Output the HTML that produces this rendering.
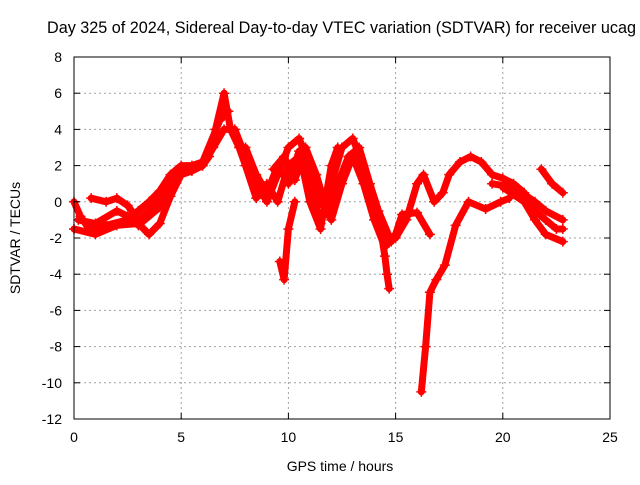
<!DOCTYPE html>
<html><head><meta charset="utf-8"><style>
body{margin:0;background:#fff;overflow:hidden}
svg{font-family:"Liberation Sans",sans-serif}
</style></head><body>
<svg id="chart" width="640" height="480">
<text x="47" y="33" font-size="16.2">Day 325 of 2024, Sidereal Day-to-day VTEC variation (SDTVAR) for receiver ucag</text>
<text x="340" y="471" font-size="14" text-anchor="middle">GPS time / hours</text>
<text x="20" y="238" font-size="14" text-anchor="middle" transform="rotate(-90 20 238)">SDTVAR / TECUs</text>
<g id="grid"></g><g id="marks"></g>
<rect x="74" y="57" width="536" height="362" fill="none" stroke="#000"/>
<g id="ticks"></g>
</svg>
<script>
const xTicks=[0,5,10,15,20,25];
const yTicks=[-12,-10,-8,-6,-4,-2,0,2,4,6,8];
const trackA=[[0,0],[0.3,-0.8],[0.7,-1.5],[1.5,-1.3],[2.5,-1],[3,-0.5],[3.5,0],[4,0.6],[4.5,1.5],[5,2],[5.5,2],[6,2],[6.3,2.5],[6.6,4],[7,6],[7.3,4],[7.7,3],[8,2],[8.5,0.2],[9,1],[9.5,0],[10,2],[10.5,2.5],[11,1],[11.5,-1.2],[12,1],[12.5,3],[13,3.5],[13.5,2],[14,0],[14.5,-2],[15,-2],[15.5,-1],[16,1],[16.3,1.5],[16.8,0],[17.2,0.5],[17.5,1.5],[18,2.2],[18.5,2.5],[19,2.2],[19.5,1.5],[20,1.3],[20.5,1],[21,0.5],[21.5,-0.5],[22,-1],[22.5,-1.5],[22.8,-1.5]];
const trackB=[[0,-1.5],[1,-1.8],[2,-1.3],[3,-1.2],[3.5,-1.8],[4,-1.2],[4.5,0.3],[5,1.5],[5.5,1.7],[6,2],[6.5,3],[7,4],[7.5,4],[8,2.5],[8.5,1],[9,0],[9.5,1.5],[10,3],[10.5,3.5],[11,2],[11.5,0],[12,-1],[12.5,1],[13,2.5],[13.5,1],[14,-1],[14.5,-2.5],[15,-1.8],[15.3,-0.7],[16,-0.6],[16.6,-1.8]];
const trackC=[[0.8,0.2],[1.5,0],[2,0.2],[2.5,-0.2],[3,-1],[3.5,-0.5],[4,0.3],[4.5,1.2],[5,1.8],[6,2.2],[6.8,4.5],[7.2,5]];
const trackD=[[16.2,-10.5],[16.4,-8],[16.6,-5],[16.9,-4.3],[17.3,-3.5],[17.8,-1.3],[18.4,0],[19.2,-0.4],[19.9,0],[20.3,0.2]];
const trackE=[[21.8,1.8],[22.3,1],[22.8,0.5]];
const trackF=[[19.5,1],[20.5,0.8],[21.5,0],[22,-0.5],[22.8,-1]];
const trackG=[[20,0.8],[21,0],[21.5,-1],[22,-1.8],[22.8,-2.2]];
const trackH=[[9.6,-3.3],[9.8,-4.3],[10,-1.5],[10.3,0]];
const trackI=[[14.3,-1.5],[14.5,-3],[14.6,-4],[14.7,-4.8]];
const trackJ=[[8,3],[8.5,1.5],[9,0.5],[9.5,2],[10,1],[10.5,2.8],[11,0],[11.5,-1.5],[12,2],[12.3,3]];
const trackK=[[9.3,1.8],[9.8,2.5],[10.3,1.2],[10.8,3],[11.3,1.5],[11.8,-0.5],[12.8,2.5],[13.3,3],[13.8,1],[14.2,-0.5],[14.8,-2.2]];
const trackL=[[0.2,-1],[1,-1.2],[2,-0.5],[2.5,-0.8],[3,-1.3],[4,-0.3],[4.5,0.8],[5,1.6]];
const tracks=[trackA,trackB,trackC,trackD,trackE,trackF,trackG,trackH,trackI,trackJ,trackK,trackL];
const X=t=>74+t*536/25, Y=v=>57+(8-v)*362/20;
const NS="http://www.w3.org/2000/svg";
const grid=document.getElementById('grid'),ticks=document.getElementById('ticks'),marks=document.getElementById('marks');
function mk(tag,attrs,parent){const e=document.createElementNS(NS,tag);for(const k in attrs)e.setAttribute(k,attrs[k]);parent.appendChild(e);return e;}
xTicks.forEach(t=>{
 const g=mk('line',{x1:X(t),x2:X(t),y1:57,y2:419,stroke:'#a0a0a0','stroke-dasharray':'2,3'},grid);
 
 
 mk('line',{x1:X(t),x2:X(t),y1:419,y2:413,stroke:'#000'},ticks);
 mk('line',{x1:X(t),x2:X(t),y1:57,y2:63,stroke:'#000'},ticks);
 const l=mk('text',{x:X(t),y:442,'font-size':14,'text-anchor':'middle'},ticks);l.textContent=t;
 
 
});
yTicks.forEach(v=>{
 const g=mk('line',{x1:74,x2:610,y1:Y(v),y2:Y(v),stroke:'#a0a0a0','stroke-dasharray':'2,3'},grid);
 
 
 mk('line',{x1:74,x2:80,y1:Y(v),y2:Y(v),stroke:'#000'},ticks);
 mk('line',{x1:604,x2:610,y1:Y(v),y2:Y(v),stroke:'#000'},ticks);
 const l=mk('text',{x:62,y:Y(v)+5,'font-size':14,'text-anchor':'end'},ticks);l.textContent=v;
 
 
});
tracks.forEach(tr=>{
 const p=mk('polyline',{points:tr.map(d=>X(d[0])+','+Y(d[1])).join(' '),fill:'none',stroke:'#f00','stroke-width':7,'stroke-linejoin':'round','stroke-linecap':'round'},marks);
 
 
 tr.forEach(d=>{
  const m=mk('path',{d:`M${X(d[0])-5},${Y(d[1])}h10M${X(d[0])},${Y(d[1])-5}v10`,stroke:'#f00','stroke-width':1.5},marks);
  
  
 });
});
</script>
</body></html>
